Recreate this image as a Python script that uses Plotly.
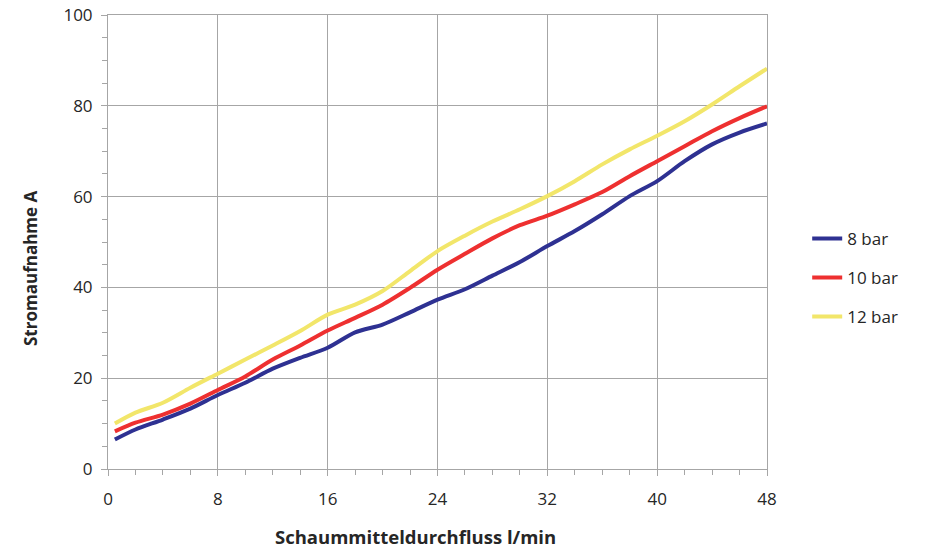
import plotly.graph_objects as go

x_flow = [0.5, 2, 4, 6, 8, 10, 12, 14, 16, 18, 20, 22, 24, 26, 28, 30, 32, 34, 36, 38, 40, 42, 44, 46, 48]

bar8 = [6.5, 8.7, 10.9, 13.3, 16.3, 19.0, 22.1, 24.5, 26.7, 30.1, 31.8, 34.5, 37.3,
        39.6, 42.6, 45.6, 49.1, 52.4, 56.1, 60.1, 63.4, 67.8, 71.5, 74.1, 76.1]
bar10 = [8.3, 10.2, 12.0, 14.4, 17.4, 20.4, 24.1, 27.2, 30.5, 33.3, 36.2, 39.9, 43.9,
         47.4, 50.8, 53.7, 55.8, 58.3, 61.0, 64.5, 67.8, 71.1, 74.4, 77.3, 79.9]
bar12 = [10.0, 12.4, 14.6, 17.9, 21.0, 24.1, 27.2, 30.4, 34.0, 36.2, 39.2, 43.6, 48.0,
         51.4, 54.5, 57.2, 60.1, 63.4, 67.1, 70.4, 73.4, 76.6, 80.3, 84.3, 88.2]

series_names = ["8 bar", "10 bar", "12 bar"]
series_colors = ["#2e3192", "#ee3030", "#f2e66a"]

x_ticks = [0, 8, 16, 24, 32, 40, 48]
y_ticks = [0, 20, 40, 60, 80, 100]

x_title = "Schaummitteldurchfluss l/min"
y_title = "Stromaufnahme A"

fig = go.Figure()
for name, vals, col in zip(series_names, [bar8, bar10, bar12], series_colors):
    fig.add_trace(go.Scatter(x=x_flow, y=vals, name=name, mode="lines", legendgroup=name,
                             line=dict(color=col, width=4, shape="spline", smoothing=0.8)))

grid = "#a6a6a6"
font_family = "Open Sans, DejaVu Sans, sans-serif"
txt = "#262626"

fig.update_layout(
    width=928, height=550,
    margin=dict(l=108, r=161, t=15, b=81, autoexpand=False),
    paper_bgcolor="white", plot_bgcolor="white",
    font=dict(family=font_family, size=17, color=txt),
    showlegend=True,
    legend=dict(x=1.061, y=0.421, xanchor="left", yanchor="middle",
                font=dict(size=17, color=txt), tracegroupgap=14,
                bgcolor="rgba(0,0,0,0)"),
    xaxis=dict(
        range=[0, 48], tickvals=x_ticks, ticktext=[str(v) for v in x_ticks],
        showgrid=True, gridcolor=grid, gridwidth=1,
        showline=True, linecolor=grid, linewidth=1, mirror=True,
        ticks="outside", ticklen=6, tickcolor=grid,
        minor=dict(dtick=2, ticks="outside", ticklen=5, tickcolor=grid, showgrid=False),
        zeroline=False, ticklabelstandoff=9, automargin=False, ticklabeloverflow="allow",
    ),
    yaxis=dict(
        range=[0, 100], tickvals=y_ticks, ticktext=[str(v) for v in y_ticks],
        showgrid=True, gridcolor=grid, gridwidth=1,
        showline=True, linecolor=grid, linewidth=1, mirror=True,
        ticks="outside", ticklen=6, tickcolor=grid,
        minor=dict(dtick=5, ticks="outside", ticklen=5, tickcolor=grid, showgrid=False),
        zeroline=False, ticklabelstandoff=5, automargin=False, ticklabeloverflow="allow",
    ),
    annotations=[
        dict(text="<b>" + x_title + "</b>", xref="paper", yref="paper", x=0.466, y=-0.1476,
             xanchor="center", yanchor="middle", showarrow=False,
             font=dict(size=18.5, color=txt)),
        dict(text="<b>" + y_title + "</b>", xref="paper", yref="paper", x=-0.1184, y=0.4427,
             xanchor="center", yanchor="middle", showarrow=False, textangle=-90,
             font=dict(size=17, color=txt)),
    ],
)

fig.write_html("out.html", config={"displayModeBar": False},
               post_script="document.body.style.margin='0';")
